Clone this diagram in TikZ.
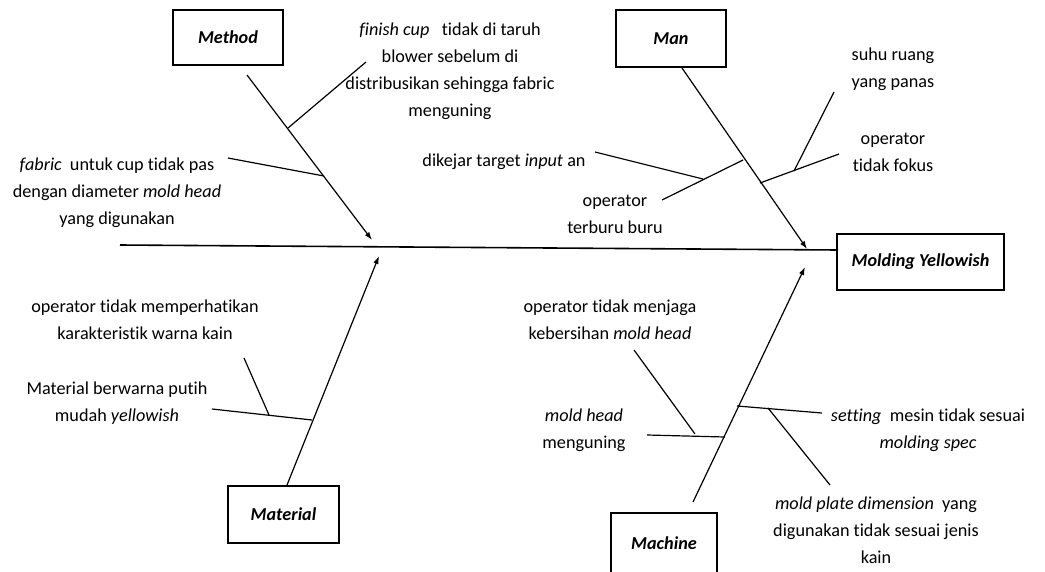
\documentclass[tikz,border=0pt]{standalone}
\usepackage{fontspec}
\setmainfont{Carlito}[Ligatures=NoCommon]
\usetikzlibrary{arrows.meta}
\begin{document}
\begin{tikzpicture}[x=1pt,y=-1pt,
  lbl/.style={align=center,font=\fontsize{18.2}{27}\selectfont,inner sep=0pt},
  cat/.style={draw,line width=1.6pt,font=\fontsize{18.2}{20}\selectfont\bfseries\itshape,inner sep=0pt},
  bone/.style={line width=1.2pt},
  arr/.style={bone,-{Latex[length=8pt,width=5.5pt]}}]
\useasboundingbox (0,0) rectangle (1045,571);
% category boxes
\node[cat,minimum width=110pt,minimum height=55pt] (method) at (228,37.5) {Method};
\node[cat,minimum width=110pt,minimum height=57pt] (man) at (671,38.5) {Man};
\node[cat,minimum width=167pt,minimum height=56pt] (effect) at (920.5,262) {Molding Yellowish};
\node[cat,minimum width=111pt,minimum height=57pt] (material) at (283.5,514.5) {Material};
\node[cat,minimum width=106pt,minimum height=60pt] (machine) at (664,543) {Machine};
% spine
\coordinate (spL) at (120,245);
\coordinate (spR) at (838,250);
\draw[line width=1.6pt] (spL) -- (spR);
% main bones
\coordinate (meS) at (247,75);  \coordinate (meT) at (372,240);
\coordinate (maS) at (682,68);  \coordinate (maT) at (807,249);
\coordinate (mtS) at (287,485); \coordinate (mtT) at (379,256);
\coordinate (mcS) at (693,502); \coordinate (mcT) at (805,267);
\draw[arr] (meS) -- (meT);
\draw[arr] (maS) -- (maT);
\draw[arr] (mtS) -- (mtT);
\draw[arr] (mcS) -- (mcT);
% sub-branches
\coordinate (a1) at (288,128); \coordinate (a2) at (366,62);
\coordinate (b1) at (228,158); \coordinate (b2) at (324,176);
\coordinate (c1) at (743,160); \coordinate (c2) at (662,200);
\coordinate (d1) at (595,152); \coordinate (d2) at (703,179);
\coordinate (e1) at (760,183); \coordinate (e2) at (839,154);
\coordinate (f1) at (834,92);  \coordinate (f2) at (794,171);
\coordinate (g1) at (212,409); \coordinate (g2) at (312,420);
\coordinate (h1) at (244,358); \coordinate (h2) at (269,415);
\coordinate (i1) at (647,435); \coordinate (i2) at (725,437);
\coordinate (j1) at (634,350); \coordinate (j2) at (695,434);
\coordinate (k1) at (737,406); \coordinate (k2) at (822,413);
\coordinate (l1) at (768,408); \coordinate (l2) at (830,485);
\foreach \p in {a,b,c,d,e,f,g,h,i,j,k,l} \draw[bone] (\p1) -- (\p2);
% labels
\node[lbl] (t1) at (450,71) {\textit{finish cup}\ \ \ tidak di taruh\\blower sebelum di\\distribusikan sehingga fabric\\menguning};
\node[lbl] (t2) at (117,193) {\textit{fabric}\ \ untuk cup tidak pas\\dengan diameter \textit{mold head}\\yang digunakan};
\node[lbl] (t3) at (504,162) {dikejar target \textit{input} an};
\node[lbl] (t4) at (615,214) {operator\\terburu buru};
\node[lbl] (t5) at (893,69) {suhu ruang\\yang panas};
\node[lbl] (t6) at (893,152) {operator\\tidak fokus};
\node[lbl] (t7) at (145,320) {operator tidak memperhatikan\\karakteristik warna kain};
\node[lbl] (t8) at (117,403) {Material berwarna putih\\mudah \textit{yellowish}};
\node[lbl] (t9) at (610,320) {operator tidak menjaga\\kebersihan \textit{mold head}};
\node[lbl] (t10) at (584,430) {\textit{mold head}\\menguning};
\node[lbl] (t11) at (928,430) {\textit{setting}\ \ mesin tidak sesuai\\\textit{molding spec}};
\node[lbl] (t12) at (876,530) {\textit{mold plate dimension}\ \ yang\\digunakan tidak sesuai jenis\\kain};
\end{tikzpicture}
\end{document}
